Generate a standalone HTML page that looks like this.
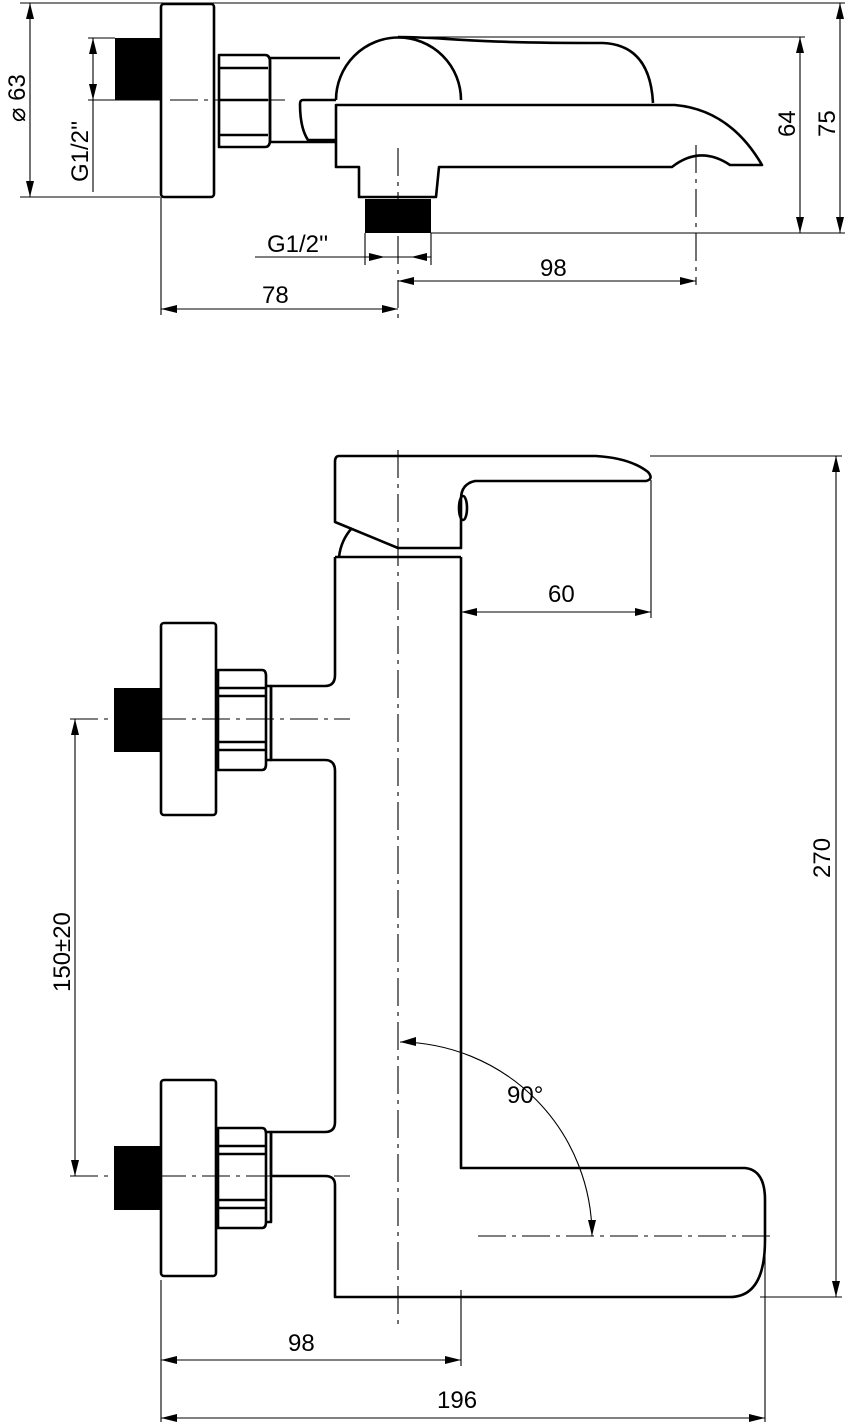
<!DOCTYPE html>
<html><head><meta charset="utf-8"><style>
html,body{margin:0;padding:0;background:#fff;}
svg{display:block}
text{font-family:"Liberation Sans",sans-serif;font-size:24px;fill:#000}
.p{fill:none;stroke:#000;stroke-width:2.6;stroke-linejoin:round}
.d{fill:none;stroke:#000;stroke-width:1.1}
.c{fill:none;stroke:#000;stroke-width:1.1;stroke-dasharray:28 6 4 6}
.a{fill:#000}
</style></head><body>
<svg width="859" height="1422" viewBox="0 0 859 1422">
<!-- ===== TOP VIEW ===== -->
<rect class="p" x="161" y="4" width="53" height="193" rx="3"/>
<rect x="115" y="38" width="46" height="62" fill="#000"/>
<path class="p" d="M219 55 H265 Q270 55 270 62 V140 Q270 147 265 147 H219 Z M219 68 H268 M219 100 H268 M219 135 H268"/>
<path class="p" d="M270 58 H340 M270 142 H336 M270 58 V142"/>
<path class="p" d="M336 100 H303 Q300 100 300 104 Q300 128 308 140 H336"/>
<path class="p" d="M336 100 A62 62 0 0 1 461 100"/>
<path class="p" d="M398 37 C450 37 450 43 603 43 Q650 45 653 103"/>
<path class="p" d="M336 105 H675 Q730 110 762 165 H730 Q700 145 672 167 H439 L436 197 H365 L359 197 V167 H336 Z"/>
<rect x="365" y="199" width="66" height="34" fill="#000"/>
<!-- dims top -->
<path class="d" d="M20 3 H845 M20 197 H160 M30 3 V197 M88 38 H115 M88 100 H160 M93 38 V192 M400 37 H805 M431 233 H845 M800 37 V233 M840 3 V233"/>
<path class="a" d="M30 3 l-4 16 h8z M30 197 l-4 -16 h8z M93 38 l-4 16 h8z M93 100 l-4 -16 h8z M800 37 l-4 16 h8z M800 233 l-4 -16 h8z M840 3 l-4 16 h8z M840 233 l-4 -16 h8z"/>
<path class="c" d="M170 100 H285 M398 148 V318 M696 145 V285"/>
<path class="d" d="M255 257 H431 M365 233 V265 M431 233 V265 M398 281 H696 M161 309 H398 M161 197 V315"/>
<path class="a" d="M385 257 l-16 -4 v8z M411 257 l16 -4 v8z M398 281 l16 -4 v8z M696 281 l-16 -4 v8z M161 309 l16 -4 v8z M398 309 l-16 -4 v8z"/>
<text x="267" y="252">G1/2''</text>
<text x="540" y="276">98</text>
<text x="262" y="303">78</text>
<text transform="translate(25,122) rotate(-90)">⌀ 63</text>
<text transform="translate(88,182) rotate(-90)">G1/2''</text>
<text transform="translate(795,137) rotate(-90)">64</text>
<text transform="translate(835,137) rotate(-90)">75</text>
<!-- ===== FRONT VIEW ===== -->
<path class="p" d="M339 456 H596 Q630 458 648 472 Q654 479 646 481 H475 Q461 484 461 499 V548 H398 L335 522 V462 Q335 456 339 456 Z"/>
<ellipse class="p" cx="463" cy="508" rx="4" ry="12"/>
<path class="p" d="M339 557 Q341 540 352 528 M335 557 H461"/>
<path class="p" d="M461 557 V1168 H745 Q765 1170 765 1200 V1240 Q765 1297 730 1297 H335 V1185 Q335 1176 325 1176 H271 V1132 H325 Q335 1132 335 1122 V771 Q335 760 325 760 H271 V686 H325 Q335 686 335 675 V557"/>
<!-- upper fitting -->
<rect class="p" x="161" y="623" width="55" height="192" rx="3"/>
<rect x="114" y="688" width="47" height="64" fill="#000"/>
<path class="p" d="M218 670 H262 Q266 670 266 676 V764 Q266 770 262 770 H218 Z M218 688 H266 M218 696 H266 M218 742 H266 M218 750 H266 M266 686 H271 V760 H266"/>
<!-- lower fitting -->
<rect class="p" x="161" y="1080" width="55" height="196" rx="3"/>
<rect x="114" y="1146" width="47" height="64" fill="#000"/>
<path class="p" d="M218 1128 H262 Q266 1128 266 1134 V1222 Q266 1228 262 1228 H218 Z M218 1146 H266 M218 1154 H266 M218 1200 H266 M218 1208 H266 M266 1132 H271 V1222 H266"/>
<!-- center lines -->
<path class="c" d="M398 450 V1330 M70 719 H350 M70 1176 H350 M478 1236 H775"/>
<!-- dims front -->
<path class="d" d="M650 456 H842 M760 1297 H842 M836 456 V1297 M651 480 V618 M461 612 H651 M75 719 V1176 M161 1280 V1422 M461 1290 V1366 M765 1230 V1422 M161 1360 H461 M161 1418 H765"/>
<path class="a" d="M836 456 l-4 16 h8z M836 1297 l-4 -16 h8z M461 612 l16 -4 v8z M651 612 l-16 -4 v8z M75 719 l-4 16 h8z M75 1176 l-4 -16 h8z M161 1360 l16 -4 v8z M461 1360 l-16 -4 v8z M161 1418 l16 -4 v8z M765 1418 l-16 -4 v8z"/>
<path class="d" d="M400 1042 A194 194 0 0 1 592 1236"/>
<path class="a" d="M400 1042 l16 -5 v9z M592 1236 l-4 -16 h8z"/>
<text x="548" y="602">60</text>
<text x="507" y="1103">90°</text>
<text x="288" y="1351">98</text>
<text x="437" y="1408">196</text>
<text transform="translate(830,878) rotate(-90)">270</text>
<text transform="translate(70,992) rotate(-90)">150±20</text>
</svg>
</body></html>
